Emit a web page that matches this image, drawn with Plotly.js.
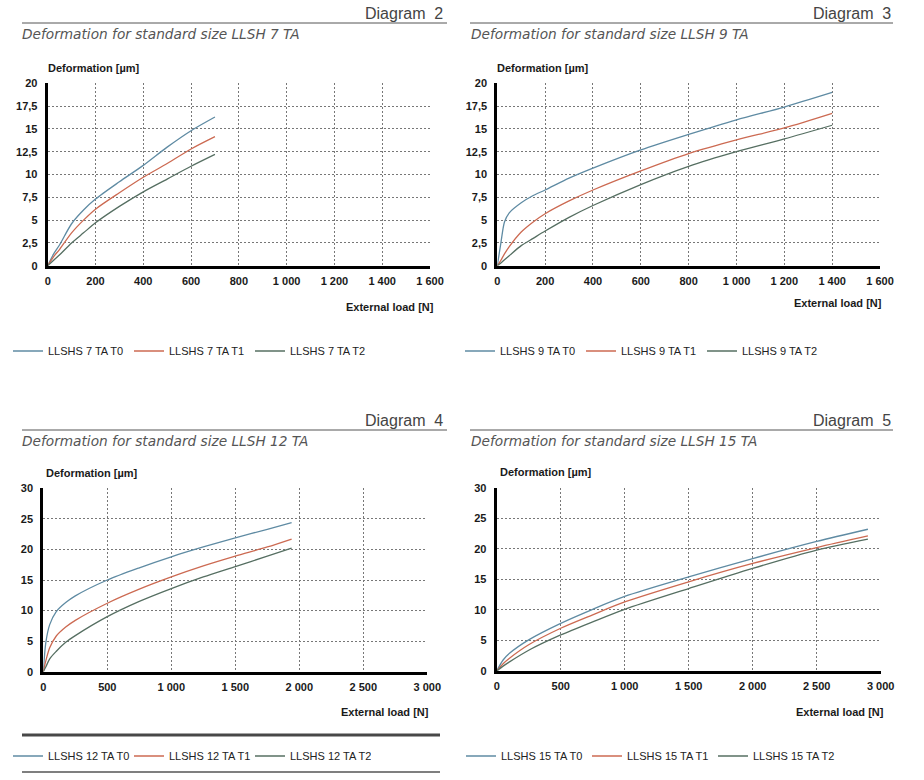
<!DOCTYPE html>
<html>
<head>
<meta charset="utf-8">
<script src="https://cdn.plot.ly/plotly-3.0.1.min.js"></script>
<style>html,body{margin:0;padding:0;background:#fff;}#chart{width:924px;height:780px;}</style>
</head>
<body>
<div id="chart"></div>
<script>
// ---- Data ----
const seriesNames7 = ["LLSHS 7 TA T0", "LLSHS 7 TA T1", "LLSHS 7 TA T2"];
const load7 = [0, 25, 50, 100, 150, 200, 300, 400, 500, 600, 700];
const def7T0 = [0, 1.3, 2.3, 4.6, 6.1, 7.3, 9.2, 11.0, 13.0, 14.8, 16.3];
const def7T1 = [0, 1.0, 1.8, 3.6, 5.0, 6.2, 8.0, 9.7, 11.2, 12.8, 14.15];
const def7T2 = [0, 0.6, 1.2, 2.5, 3.6, 4.7, 6.5, 8.1, 9.5, 10.9, 12.2];

const seriesNames9 = ["LLSHS 9 TA T0", "LLSHS 9 TA T1", "LLSHS 9 TA T2"];
const load9 = [0, 15, 30, 50, 100, 150, 200, 300, 400, 600, 800, 1000, 1200, 1400];
const def9T0 = [0, 2.5, 4.8, 5.8, 6.9, 7.7, 8.3, 9.6, 10.7, 12.7, 14.4, 16.0, 17.4, 19.0];
const def9T1 = [0, 0.6, 1.3, 2.1, 3.7, 4.8, 5.7, 7.1, 8.3, 10.4, 12.3, 13.8, 15.1, 16.7];
const def9T2 = [0, 0.3, 0.65, 1.1, 2.2, 3.0, 3.8, 5.3, 6.6, 8.9, 10.9, 12.5, 13.9, 15.4];

const seriesNames12 = ["LLSHS 12 TA T0", "LLSHS 12 TA T1", "LLSHS 12 TA T2"];
const load12 = [0, 20, 50, 100, 175, 250, 500, 750, 1000, 1250, 1500, 1750, 1940];
const def12T0 = [0, 4.8, 7.7, 9.8, 11.3, 12.4, 15.0, 17.0, 18.8, 20.4, 21.9, 23.3, 24.4];
const def12T1 = [0, 1.8, 3.9, 5.8, 7.3, 8.4, 11.2, 13.5, 15.5, 17.3, 18.9, 20.4, 21.7];
const def12T2 = [0, 0.8, 2.1, 3.3, 4.8, 5.9, 9.0, 11.5, 13.6, 15.5, 17.2, 18.9, 20.2];

const seriesNames15 = ["LLSHS 15 TA T0", "LLSHS 15 TA T1", "LLSHS 15 TA T2"];
const load15 = [0, 50, 100, 250, 500, 750, 1000, 1500, 2000, 2500, 2900];
const def15T0 = [0, 1.8, 2.9, 5.1, 7.8, 10.1, 12.2, 15.4, 18.4, 21.2, 23.2];
const def15T1 = [0, 1.2, 2.1, 4.3, 7.0, 9.2, 11.3, 14.6, 17.6, 20.2, 22.1];
const def15T2 = [0, 0.8, 1.5, 3.4, 5.9, 8.05, 10.1, 13.5, 16.8, 19.8, 21.6];

const diagramTitles = ["Diagram\u00a0 2", "Diagram\u00a0 3", "Diagram\u00a0 4", "Diagram\u00a0 5"];
const subTitles = ["Deformation for standard size LLSH 7 TA", "Deformation for standard size LLSH 9 TA",
                   "Deformation for standard size LLSH 12 TA", "Deformation for standard size LLSH 15 TA"];
const yTitle = "Deformation [µm]";
const xTitle = "External load [N]";

const xTicks1600 = [0, 200, 400, 600, 800, 1000, 1200, 1400, 1600];
const xTickText1600 = ["0", "200", "400", "600", "800", "1 000", "1 200", "1 400", "1 600"];
const xTicks3000 = [0, 500, 1000, 1500, 2000, 2500, 3000];
const xTickText3000 = ["0", "500", "1 000", "1 500", "2 000", "2 500", "3 000"];
const yTicks20 = [0, 2.5, 5, 7.5, 10, 12.5, 15, 17.5, 20];
const yTickText20 = ["0", "2,5", "5", "7,5", "10", "12,5", "15", "17,5", "20"];
const yTicks30 = [0, 5, 10, 15, 20, 25, 30];
const yTickText30 = ["0", "5", "10", "15", "20", "25", "30"];

// ---- Styling / layout ----
const W = 924, H = 780;
const px = v => v / W;
const py = v => 1 - v / H;
const colors = ["#5f8ba3", "#cc6a52", "#566f62"];
const FONT = "Liberation Sans, Arial, sans-serif";
const SUBFONT = "DejaVu Sans, sans-serif";

function mk(x, ys, names, xa, ya, leg) {
  return ys.map((y, i) => ({
    type: "scatter", mode: "lines", x: x, y: y, name: names[i],
    xaxis: xa, yaxis: ya, legend: leg,
    line: {color: colors[i], width: 1.3, shape: "spline", smoothing: 0.8},
    hoverinfo: "skip"
  }));
}

const data = [].concat(
  mk(load7, [def7T0, def7T1, def7T2], seriesNames7, "x", "y", "legend"),
  mk(load9, [def9T0, def9T1, def9T2], seriesNames9, "x2", "y2", "legend2"),
  mk(load12, [def12T0, def12T1, def12T2], seriesNames12, "x3", "y3", "legend3"),
  mk(load15, [def15T0, def15T1, def15T2], seriesNames15, "x4", "y4", "legend4")
);

function axisBase(domain, anchor, max, tv, tt, standoff) {
  return {
    domain: domain, anchor: anchor, range: [0, max], tickvals: tv, ticktext: tt,
    showgrid: true, gridcolor: "#777", griddash: "2px,2px", gridwidth: 1,
    showline: true, linecolor: "#000", linewidth: 3, zeroline: false,
    ticks: "", ticklabelstandoff: standoff, fixedrange: true,
    tickfont: {family: FONT, size: 11, color: "#1a1a1a", weight: "bold"}
  };
}
const xax = (d, a, m, tv, tt) => axisBase(d, a, m, tv, tt, 3);
const yax = (d, a, m, tv, tt) => axisBase(d, a, m, tv, tt, 5);

const plots = [
  {l: 47.7, r: 430, t: 83.3, b: 265.7},
  {l: 497.3, r: 880, t: 83.3, b: 265.7},
  {l: 43.3, r: 427.3, t: 488.3, b: 671.7},
  {l: 496.7, r: 880.7, t: 487.7, b: 671}
];
const dx = p => [px(p.l), px(p.r)];
const dy = p => [py(p.b), py(p.t)];

const annotations = [];
const shapes = [];
function header(i, lineL, lineR, lineY, titleRight, titleY, subX, subY) {
  annotations.push({xref: "paper", yref: "paper", x: px(titleRight), y: py(titleY), xanchor: "right", yanchor: "middle",
    text: diagramTitles[i], showarrow: false, font: {family: FONT, size: 16, color: "#444"}});
  annotations.push({xref: "paper", yref: "paper", x: px(subX), y: py(subY), xanchor: "left", yanchor: "middle",
    text: "<i>" + subTitles[i] + "</i>", showarrow: false, font: {family: SUBFONT, size: 13.7, color: "#555"}});
  shapes.push({type: "line", xref: "paper", yref: "paper", x0: px(lineL), x1: px(lineR), y0: py(lineY), y1: py(lineY),
    line: {color: "#555", width: 1}});
}
header(0, 22, 447, 23, 445, 13, 20, 34);
header(1, 470, 893, 23, 893, 13, 469, 34);
header(2, 22, 447, 430, 445, 420, 20, 441);
header(3, 470, 893, 430, 893, 420, 469, 441);

function axisTitles(yx, yy, xr, xy) {
  annotations.push({xref: "paper", yref: "paper", x: px(yx), y: py(yy), xanchor: "left", yanchor: "middle",
    text: yTitle, showarrow: false, font: {family: FONT, size: 11, color: "#1a1a1a", weight: "bold"}});
  annotations.push({xref: "paper", yref: "paper", x: px(xr), y: py(xy), xanchor: "right", yanchor: "middle",
    text: xTitle, showarrow: false, font: {family: FONT, size: 11, color: "#1a1a1a", weight: "bold"}});
}
axisTitles(46, 68, 436, 307);
axisTitles(495, 68, 884, 303);
axisTitles(44, 473, 431, 712);
axisTitles(498, 472, 886, 712);

// decorative rules around bottom-left legend
shapes.push({type: "line", xref: "paper", yref: "paper", x0: px(22), x1: px(440), y0: py(735), y1: py(735), line: {color: "#484848", width: 3}});
shapes.push({type: "line", xref: "paper", yref: "paper", x0: px(22), x1: px(440), y0: py(772), y1: py(772), line: {color: "#555", width: 1.3}});

function leg(x, y, ew) {
  return {orientation: "h", x: px(x), y: py(y), xanchor: "left", yanchor: "middle",
    bgcolor: "rgba(0,0,0,0)", borderwidth: 0, entrywidth: ew, entrywidthmode: "pixels",
    font: {family: FONT, size: 11, color: "#222"}};
}

const layout = {
  width: W, height: H, margin: {l: 0, r: 0, t: 0, b: 0, pad: 0},
  paper_bgcolor: "#fff", plot_bgcolor: "#fff", showlegend: true, hovermode: false,
  xaxis: xax(dx(plots[0]), "y", 1600, xTicks1600, xTickText1600),
  yaxis: yax(dy(plots[0]), "x", 20, yTicks20, yTickText20),
  xaxis2: xax(dx(plots[1]), "y2", 1600, xTicks1600, xTickText1600),
  yaxis2: yax(dy(plots[1]), "x2", 20, yTicks20, yTickText20),
  xaxis3: xax(dx(plots[2]), "y3", 3000, xTicks3000, xTickText3000),
  yaxis3: yax(dy(plots[2]), "x3", 30, yTicks30, yTickText30),
  xaxis4: xax(dx(plots[3]), "y4", 3000, xTicks3000, xTickText3000),
  yaxis4: yax(dy(plots[3]), "x4", 30, yTicks30, yTickText30),
  legend: leg(8, 351, 76),
  legend2: leg(460, 351, 76),
  legend3: leg(8, 756, 76),
  legend4: leg(461, 756, 81),
  annotations: annotations, shapes: shapes
};

Plotly.newPlot("chart", data, layout, {staticPlot: true, displayModeBar: false});
</script>
</body>
</html>
